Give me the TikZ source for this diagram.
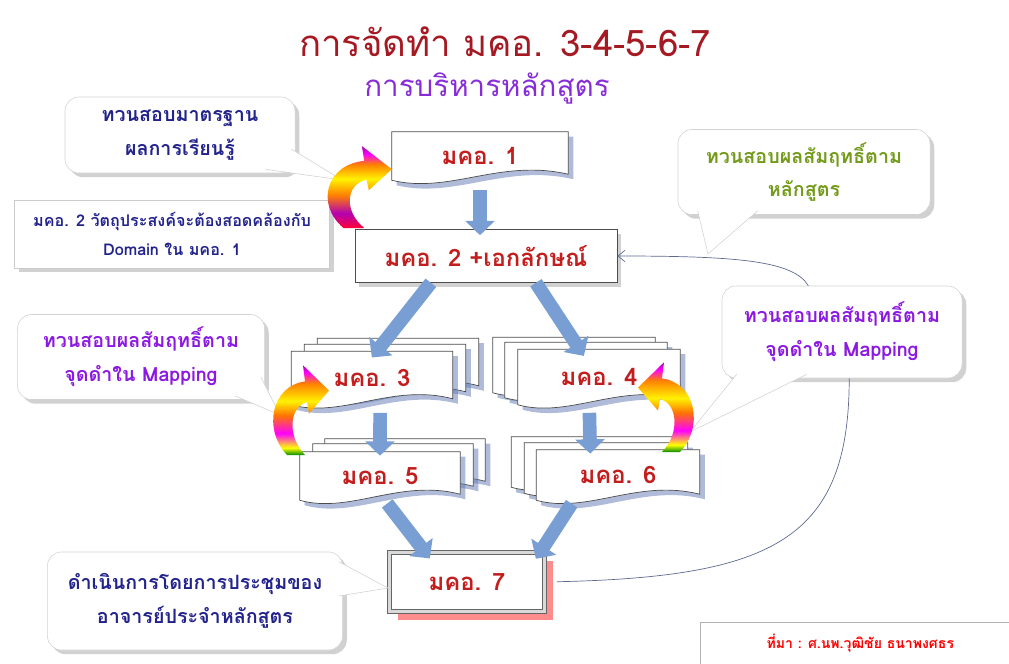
\documentclass[tikz,border=0pt]{standalone}
\usepackage{fontspec}
\setmainfont{Loma}[Script=Thai]
\usetikzlibrary{arrows.meta,calc,shadows,backgrounds}

\definecolor{titlered}{RGB}{165,25,35}
\definecolor{subviolet}{RGB}{135,45,215}
\definecolor{docred}{RGB}{195,30,30}
\definecolor{navytext}{RGB}{35,35,140}
\definecolor{olivetext}{RGB}{115,155,25}
\definecolor{violettext}{RGB}{140,25,225}
\definecolor{flowblue}{RGB}{120,158,212}
\definecolor{linkgray}{RGB}{95,105,145}
\definecolor{pageshadow}{RGB}{95,120,180}

\pgfdeclareverticalshading{rainbowlow}{100bp}{color(0bp)=(green!55!black); color(25bp)=(green!55!black); color(29bp)=(yellow); color(37bp)=(magenta); color(47bp)=(orange!90!red); color(55bp)=(yellow!90!orange); color(65bp)=(orange); color(71bp)=(magenta); color(75bp)=(violet!70!magenta); color(100bp)=(violet!70!magenta)}
\pgfdeclareverticalshading{rainbowtop}{100bp}{color(0bp)=(red!80!magenta); color(25bp)=(red!80!magenta); color(34bp)=(violet!60!magenta); color(45bp)=(orange); color(55bp)=(yellow!90!orange); color(64bp)=(orange); color(70bp)=(magenta); color(75bp)=(violet!70!magenta); color(100bp)=(violet!70!magenta)}

% page with a wavy lower edge round a label node, #1 = offset
\newcommand{\docpage}[2][0,0]{%
  \fill[pageshadow,opacity=0.5] ($(#2.north west)+(#1)+(5,5)$) -- ($(#2.north east)+(#1)+(5,5)$) -- ($(#2.south east)+(#1)+(5,-1)$) .. controls ($(#2.south)+(#1)+(25,-17)$) and ($(#2.south)+(#1)+(-25,19)$) .. ($(#2.south west)+(#1)+(5,5)$) -- cycle;
  \filldraw[fill=white,draw=black!70,line width=0.5pt] ($(#2.north west)+(#1)$) -- ($(#2.north east)+(#1)$) -- ($(#2.south east)+(#1)+(0,-6)$) .. controls ($(#2.south)+(#1)+(20,-22)$) and ($(#2.south)+(#1)+(-30,14)$) .. ($(#2.south west)+(#1)$) -- cycle;}

% curved colour arrow, base at #2
\newcommand{\rainbowarc}[3]{%
  \begin{scope}[shift={#2},#3]
    \shade[shading=#1] (-10,0) .. controls (-34,-22) and (-26,-60) .. (8,-64) -- (6,-78) -- (32,-56) -- (12,-36) -- (10,-46) .. controls (-8,-42) and (-10,-16) .. (8,0) -- cycle;
  \end{scope}}

% callout tail: base, tip, base
\newcommand{\callouttail}[3]{%
  \fill[white] #1 -- #2 -- #3 -- cycle;
  \draw[tailline] #1 -- #2 -- #3;}

\tikzset{
  doclabel/.style={text=docred,font=\bfseries\fontsize{17}{20}\selectfont,inner sep=0pt},
  callout/.style={rounded corners=10pt,fill=white,draw=gray!35,align=center,inner sep=0pt,
    font=\bfseries\fontsize{14}{24}\selectfont,
    drop shadow={shadow xshift=3pt,shadow yshift=-3pt,fill=gray!60,opacity=0.6}},
  descbox/.style={fill=white,draw=gray!40,align=center,inner sep=0pt,text=navytext,
    font=\bfseries\fontsize{11.5}{20}\selectfont,
    drop shadow={shadow xshift=3pt,shadow yshift=-3pt,fill=gray!60,opacity=0.6}},
  tailline/.style={draw=gray!35},
  flow/.style={draw=flowblue,line width=0.34cm,-{Triangle[length=0.36cm,width=0.72cm]}},
  link/.style={draw=linkgray,line width=0.5pt},
}

\begin{document}
\begin{tikzpicture}[x=0.025cm,y=-0.025cm]
\useasboundingbox (0,0) rectangle (1009,664);

\node[font=\fontsize{26}{30}\selectfont,text=titlered] (title) at (505,42) {การจัดทำ มคอ. 3-4-5-6-7};
\node[font=\fontsize{21}{24}\selectfont,text=subviolet] (subtitle) at (487,88) {การบริหารหลักสูตร};

% documents
\node[doclabel,minimum width=4.4cm,minimum height=1.2cm] (m1) at (480,156) {มคอ. 1};
\node[doclabel,draw=black!70,fill=white,minimum width=6.55cm,minimum height=1.325cm,
  drop shadow={shadow xshift=3pt,shadow yshift=-3pt,fill=gray!60,opacity=0.6}] (m2) at (486,256) {มคอ. 2 +เอกลักษณ์};
\node[doclabel,minimum width=4.025cm,minimum height=1.325cm] (m3) at (372,378) {มคอ. 3};
\node[doclabel,minimum width=4.05cm,minimum height=1.375cm] (m4) at (599,377) {มคอ. 4};
\node[doclabel,minimum width=4cm,minimum height=1.2cm] (m5) at (380,476) {มคอ. 5};
\node[doclabel,minimum width=4.075cm,minimum height=1.25cm] (m6) at (618,475) {มคอ. 6};
\node[doclabel,fill=white,draw=black!60,line width=0.6pt,double=gray!30,double distance=2pt,
  minimum width=3.875cm,minimum height=1.475cm,
  drop shadow={shadow xshift=6pt,shadow yshift=-6pt,fill=red!60,opacity=0.75}] (m7) at (467,582) {มคอ. 7};

\begin{scope}[on background layer]
\docpage{m1}
\docpage[26,-13]{m3}
\docpage[13,-7]{m3}
\docpage{m3}
\docpage[-25,-12]{m4}
\docpage[-13,-7]{m4}
\docpage{m4}
\docpage[25,-13]{m5}
\docpage[13,-8]{m5}
\docpage{m5}
\docpage[-25,-13]{m6}
\docpage[-12,-7]{m6}
\docpage{m6}
\end{scope}

% notes
\node[callout,text=navytext,minimum width=5.75cm,minimum height=1.9cm] (c1) at (180,135) {ทวนสอบมาตรฐาน\\ผลการเรียนรู้};
\node[descbox,minimum width=7.875cm,minimum height=1.7cm] (d2) at (172,234) {มคอ. 2 วัตถุประสงค์จะต้องสอดคล้องกับ\\Domain ใน มคอ. 1};
\node[callout,text=olivetext,minimum width=6.3cm,minimum height=2.125cm] (cg) at (804,172) {ทวนสอบผลสัมฤทธิ์ตาม\\หลักสูตร};
\node[callout,text=violettext,minimum width=6cm,minimum height=2.3cm] (cr) at (842,332) {ทวนสอบผลสัมฤทธิ์ตาม\\จุดดำใน Mapping};
\node[callout,text=violettext,minimum width=6.175cm,minimum height=2.125cm] (cl) at (141,357) {ทวนสอบผลสัมฤทธิ์ตาม\\จุดดำใน Mapping};
\node[callout,text=navytext,minimum width=7.375cm,minimum height=2.45cm] (cb) at (195,601) {ดำเนินการโดยการประชุมของ\\อาจารย์ประจำหลักสูตร};
\node[descbox,text=red,font=\bfseries\fontsize{10}{12}\selectfont,draw=gray!60,anchor=north west,
  minimum width=8cm,minimum height=1.05cm] (src) at (700,622) {ที่มา : ศ.นพ.วุฒิชัย ธนาพงศธร};

\coordinate (t1) at (342,180);
\coordinate (tg) at (708,254);
\coordinate (tr) at (690,432);
\coordinate (tl) at (280,415);
\coordinate (tb) at (388,588);
\callouttail{($(c1.east)+(-4,14)$)}{(t1)}{($(c1.south east)+(-30,-4)$)}
\callouttail{($(cg.south west)+(20,-4)$)}{(tg)}{($(cg.south west)+(80,-4)$)}
\callouttail{($(cr.south west)+(15,-4)$)}{(tr)}{($(cr.south west)+(85,-4)$)}
\callouttail{($(cl.east)+(-4,20)$)}{(tl)}{($(cl.south east)+(-30,-4)$)}
\callouttail{($(cb.north east)+(-4,10)$)}{(tb)}{($(cb.east)+(-4,-5)$)}

% flow
\draw[flow,shorten <=0.25cm,shorten >=-0.15cm] (m1.south) -- (m1.south |- m2.north);
\draw[flow,shorten >=-0.2cm] ($(m2.south west)!0.29!(m2.south east)$) -- ($(m3.north west)!0.53!(m3.north east)$);
\draw[flow,shorten >=-0.2cm] ($(m2.south west)!0.69!(m2.south east)$) -- ($(m4.north west)!0.38!(m4.north east)$);
\draw[flow,shorten <=0.2cm,shorten >=-0.1cm] ($(m3.south west)!0.55!(m3.south east)$) -- ($(m5.north west)!0.5!(m5.north east)$);
\draw[flow,shorten <=0.2cm,shorten >=-0.1cm] ($(m4.south west)!0.44!(m4.south east)$) -- ($(m6.north west)!0.33!(m6.north east)$);
\draw[flow,shorten <=0.1cm,shorten >=-0.2cm] ($(m5.south west)!0.53!(m5.south east)$) -- ($(m7.north west)!0.23!(m7.north east)$);
\draw[flow,shorten <=0.1cm,shorten >=-0.2cm] ($(m6.south west)!0.23!(m6.south east)$) -- ($(m7.north west)!0.97!(m7.north east)$);

\rainbowarc{rainbowtop}{(355,228)}{xscale=1.15,yscale=1.05}
\rainbowarc{rainbowlow}{(297,455)}{yscale=1.15}
\rainbowarc{rainbowlow}{(670,452)}{xscale=-1,yscale=1.15}

% links
\draw[link,-{Straight Barb[length=5pt,width=8pt]}] ($(cr.north west)!0.36!(cr.north east)$) .. controls +(-15,-25) and +(120,0) .. (m2.east);
\draw[link,shorten >=0.3cm] ($(cr.south west)!0.53!(cr.south east)$) .. controls +(0,160) and +(230,-5) .. (m7.east);
\end{tikzpicture}
\end{document}
